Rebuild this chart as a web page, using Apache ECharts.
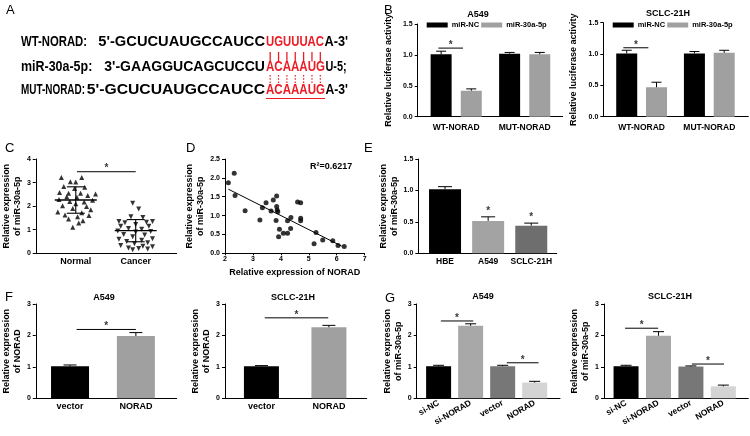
<!DOCTYPE html>
<html><head><meta charset="utf-8">
<script src="https://cdn.jsdelivr.net/npm/echarts@6/dist/echarts.min.js"></script>
<style>html,body{margin:0;padding:0;background:#fff}#main{width:750px;height:436px}</style>
</head><body><div id="main"></div>
<script>
// ================= DATA =================
// Panel A
const seqLabels = ['WT-NORAD:', 'miR-30a-5p:', 'MUT-NORAD:'];
const seqLeft = ["5'-GCUCUAUGCCAUCC", "3'-GAAGGUCAGCUCCU", "5'-GCUCUAUGCCAUCC"];
const seqSite = ['UGUUUAC', 'ACAAAUG', 'ACAAAUG'];
const seqRight = ["A-3'", 'U-5;', "A-3'"];

// Panel B
const bCategories = ['WT-NORAD', 'MUT-NORAD'];
const bSeriesNames = ['miR-NC', 'miR-30a-5p'];
const bTitles = ['A549', 'SCLC-21H'];
const bA549NC = [1.01, 1.02];
const bA549NCErr = [0.05, 0.02];
const bA549Mir = [0.42, 1.01];
const bA549MirErr = [0.03, 0.03];
const bSclcNC = [1.01, 1.01];
const bSclcNCErr = [0.05, 0.03];
const bSclcMir = [0.47, 1.02];
const bSclcMirErr = [0.08, 0.04];
const bA549Sig = [-0.26, 0.10, 1.11];
const bSclcSig = [-0.27, 0.10, 1.10];

// Panel C
const cCategories = ['Normal', 'Cancer'];
const cNormal = [3.22, 3.22, 3.04, 3.02, 2.83, 2.80, 2.75, 2.58, 2.55, 2.55, 2.52, 2.45, 2.40, 2.38, 2.28, 2.25, 2.20, 2.18, 2.10, 2.02, 1.98, 1.90, 1.85, 1.75, 1.72, 1.62, 1.60, 1.55, 1.45, 1.38, 1.28, 1.10];
const cNormalJitter = [-0.24, 0.10, -0.09, 0.0, -0.20, 0.15, -0.02, -0.27, -0.12, 0.08, 0.33, 0.20, -0.15, 0.02, -0.28, 0.28, -0.10, 0.14, 0.0, -0.22, 0.18, -0.05, 0.25, -0.30, 0.10, -0.18, 0.22, 0.03, -0.12, 0.12, 0.05, -0.05];
const cCancer = [2.12, 1.88, 1.55, 1.52, 1.35, 1.35, 1.30, 1.32, 1.22, 1.15, 1.15, 1.05, 1.02, 0.95, 0.92, 0.90, 0.80, 0.78, 0.70, 0.62, 0.60, 0.55, 0.50, 0.45, 0.40, 0.33, 0.30, 0.28, 0.22, 0.20, 0.18, 0.15];
const cCancerJitter = [-0.05, 0.05, -0.08, 0.12, -0.28, 0.28, -0.18, 0.18, 0.0, -0.25, 0.22, -0.12, 0.10, -0.30, 0.25, 0.0, -0.20, 0.15, -0.05, 0.28, -0.28, 0.10, -0.15, 0.20, -0.02, -0.25, 0.12, 0.28, -0.12, 0.05, 0.20, -0.05];
const cMean = [2.26, 0.96];
const cSD = [0.56, 0.47];
const cSig = [1.02, 2.0, 3.46];

// Panel D
const dNorad = [2.12, 2.33, 2.36, 2.72, 3.25, 3.34, 3.47, 3.65, 3.73, 3.85, 3.85, 3.87, 3.89, 3.83, 3.95, 3.92, 4.09, 4.24, 4.24, 4.36, 4.35, 4.60, 4.71, 4.71, 4.71, 5.26, 5.19, 5.50, 5.86, 6.05, 6.27];
const dMir = [1.87, 2.12, 1.53, 1.13, 0.88, 1.21, 1.34, 1.12, 1.41, 1.52, 1.24, 1.15, 1.10, 0.87, 0.64, 0.44, 0.53, 0.53, 0.86, 0.95, 0.66, 1.36, 1.34, 0.93, 0.86, 0.55, 0.25, 0.35, 0.33, 0.21, 0.18];
const dFit = [[2.12, 1.70], [6.18, 0.19]];
const dR2 = 'R\u00b2=0.6217';

// Panel E
const eCategories = ['HBE', 'A549', 'SCLC-21H'];
const eValues = [1.02, 0.515, 0.44];
const eErr = [0.04, 0.065, 0.04];
const eStarIdx = [1, 2];

// Panel F
const fCategories = ['vector', 'NORAD'];
const fTitles = ['A549', 'SCLC-21H'];
const fA549 = [1.02, 1.98];
const fA549Err = [0.04, 0.11];
const fSclc = [1.02, 2.26];
const fSclcErr = [0.02, 0.06];
const fA549Sig = [0.10, 1.0, 2.19];
const fSclcSig = [0.05, 0.99, 2.56];

// Panel G
const gCategories = ['si-NC', 'si-NORAD', 'vector', 'NORAD'];
const gTitles = ['A549', 'SCLC-21H'];
const gA549 = [1.02, 2.31, 1.02, 0.50];
const gA549Err = [0.03, 0.06, 0.03, 0.04];
const gSclc = [1.02, 1.99, 1.01, 0.38];
const gSclcErr = [0.03, 0.13, 0.02, 0.04];
const gA549Sig = [[0.07, 1.08, 2.46], [2.13, 3.12, 1.13]];
const gSclcSig = [[-0.03, 0.99, 2.23], [2.03, 3.02, 1.09]];

// ================= BUILD =================
const FONT = '"Liberation Sans", Arial, Helvetica, sans-serif';
const RED = '#ed1c24';
const TXT = {fontFamily: FONT, fontWeight: 'bold', color: '#000'};
const grids = [], xAxes = [], yAxes = [], series = [], legends = [], graphics = [];

function panel(rect, x, y) {
  const gi = grids.length;
  grids.push({left: rect[0], top: rect[1], width: rect[2], height: rect[3]});
  const line = {show: true, onZero: false, lineStyle: {color: '#000', width: 1}};
  xAxes.push(Object.assign({type: 'value', gridIndex: gi, splitLine: {show: false}, axisLine: line, axisTick: {show: false}}, x));
  yAxes.push(Object.assign({type: 'value', gridIndex: gi, splitLine: {show: false}, axisLine: line,
    axisTick: {show: true, length: 3, lineStyle: {color: '#000', width: 1}}}, y));
  return gi;
}
function yCfg(max, interval, dec, name, nameGap) {
  return {min: 0, max: max, interval: interval,
    axisLabel: Object.assign({fontSize: 7, margin: 5, formatter: v => v.toFixed(dec)}, TXT),
    name: name, nameLocation: 'middle', nameRotate: 90, nameGap: nameGap,
    nameTextStyle: Object.assign({fontSize: 9, lineHeight: 11}, TXT)};
}
function catX(min, max, cats, size, margin, rotate, base) {
  base = base || 0;
  return {min: min, max: max, axisLabel: Object.assign({
    customValues: cats.map((c, i) => i + base),
    formatter: v => cats[Math.round(v - base)] || '',
    fontSize: size, margin: margin, rotate: rotate || 0}, TXT)};
}
function errSeries(gi, pts, capW) {
  series.push({type: 'custom', xAxisIndex: gi, yAxisIndex: gi, data: pts, z: 5, silent: true,
    renderItem: (p, api) => {
      const x = api.value(0), v = api.value(1), e = api.value(2);
      const p0 = api.coord([x, v]), p1 = api.coord([x, v + e]);
      return {type: 'group', children: [
        {type: 'line', shape: {x1: p0[0], y1: p0[1], x2: p1[0], y2: p1[1]}, style: {stroke: '#000', lineWidth: 1}},
        {type: 'line', shape: {x1: p1[0] - capW / 2, y1: p1[1], x2: p1[0] + capW / 2, y2: p1[1]}, style: {stroke: '#000', lineWidth: 1}}
      ]};
    }});
}
function star(gi, x, y) {
  series.push({type: 'scatter', xAxisIndex: gi, yAxisIndex: gi, data: [[x, y]], symbolSize: 0.1, silent: true,
    itemStyle: {color: 'rgba(0,0,0,0)'},
    label: Object.assign({show: true, formatter: '*', position: 'inside', offset: [0, -3], fontSize: 10}, TXT)});
}
function sig(gi, s) {
  series.push({type: 'line', xAxisIndex: gi, yAxisIndex: gi, data: [[s[0], s[2]], [s[1], s[2]]], symbol: 'none', silent: true,
    lineStyle: {color: '#000', width: 1}});
  star(gi, (s[0] + s[1]) / 2, s[2]);
}
function bars(gi, name, data, width, color) {
  series.push({type: 'bar', name: name, xAxisIndex: gi, yAxisIndex: gi, data: data, barWidth: width, barGap: '-100%',
    silent: true, itemStyle: {color: color}});
}
function gtext(text, x, y, font, extra) {
  const style = Object.assign({text: text, font: font, fill: '#000', align: 'left', verticalAlign: 'middle'}, (extra && extra.style) || {});
  const el = Object.assign({type: 'text', x: x, y: y, silent: true}, extra || {});
  el.style = style;
  graphics.push(el);
}
function gline(x1, y1, x2, y2, color, w, dash) {
  graphics.push({type: 'line', silent: true, shape: {x1, y1, x2, y2}, style: {stroke: color, lineWidth: w, lineDash: dash || null}});
}
const LETTER = '13px ' + FONT;
const TITLE = 'bold 9px ' + FONT;

// ---------- Panel A ----------
const ctx = document.createElement('canvas').getContext('2d');
function measure(t, f) { ctx.font = f; return ctx.measureText(t).width; }
const AFONT = 'bold 14px ' + FONT;
const aRows = [
  {y: 42.5, spans: [[21, 87], [98.3, 265], [266, 324], [324.5, 348]]},
  {y: 67.5, spans: [[21, 92.3], [104.3, 265], [266, 325], [325.5, 346.7]]},
  {y: 90.5, spans: [[21, 85], [86.7, 265], [266, 325], [325.5, 348]]}
];
aRows.forEach((r, k) => {
  const texts = [seqLabels[k], seqLeft[k], seqSite[k], seqRight[k]];
  const cols = ['#000', '#000', RED, '#000'];
  texts.forEach((t, j) => {
    const sp = r.spans[j];
    const w = measure(t, AFONT);
    gtext(t, sp[0], r.y, AFONT, {scaleX: (sp[1] - sp[0]) / w, style: {fill: cols[j]}});
  });
});
for (let i = 0; i < 7; i++) {
  const x = 266 + (i + 0.5) * 58.5 / 7;
  gline(x, 52, x, 61.5, RED, 1.3);
  gline(x, 75, x, 84, RED, 1.2, [1.5, 1.8]);
}
gline(266, 98.5, 325, 98.5, RED, 1.2);
gtext('A', 6, 10, LETTER);

// ---------- Panel B ----------
const bSets = [
  {nc: bA549NC, ncE: bA549NCErr, mir: bA549Mir, mirE: bA549MirErr, sg: bA549Sig, rect: [417.7, 24, 145, 92.7], min: -0.562, max: 1.555, gap: 23.5, tx: 478, ty: 15, leg: 426.7},
  {nc: bSclcNC, ncE: bSclcNCErr, mir: bSclcMir, mirE: bSclcMirErr, sg: bSclcSig, rect: [603.3, 22.7, 145, 94], min: -0.566, max: 1.576, gap: 24, tx: 668, ty: 14, leg: 612.7}
];
bSets.forEach((b, k) => {
  const gi = panel(b.rect, catX(b.min, b.max, bCategories, 8.5, 6), yCfg(1.5, 0.5, 1, 'Relative luciferase activity', b.gap));
  const offs = [-0.22, 0.22], cols = ['#000', '#a0a0a0'];
  [[b.nc, b.ncE], [b.mir, b.mirE]].forEach((s, j) => {
    bars(gi, bSeriesNames[j], bCategories.map((c, i) => [i + offs[j], s[0][i]]), 21, cols[j]);
    errSeries(gi, bCategories.map((c, i) => [i + offs[j], s[0][i], s[1][i]]), 10);
  });
  sig(gi, b.sg);
  legends.push({left: b.leg, top: 21, padding: 0, itemWidth: 21, itemHeight: 5, itemGap: 2, icon: 'rect',
    selectedMode: false, data: bSeriesNames, textStyle: Object.assign({fontSize: 7.5, padding: [0, 0, 0, -1]}, TXT)});
  gtext(bTitles[k], b.tx, b.ty, TITLE, {style: {align: 'center'}});
});
gtext('B', 384, 10, LETTER);

// ---------- Panel C ----------
(function () {
  const gi = panel([33.3, 159, 143.4, 94.3], catX(0.333, 2.684, cCategories, 9, 4, 0, 1),
    yCfg(4, 1, 0, 'Relative expression\nof miR-30a-5p', 9.5));
  series.push({type: 'scatter', xAxisIndex: gi, yAxisIndex: gi, symbol: 'triangle', symbolSize: 5, silent: true,
    itemStyle: {color: '#000'}, data: cNormal.map((v, i) => [1 + cNormalJitter[i], v])});
  series.push({type: 'scatter', xAxisIndex: gi, yAxisIndex: gi, symbol: 'triangle', symbolRotate: 180, symbolSize: 5, silent: true,
    itemStyle: {color: '#000'}, data: cCancer.map((v, i) => [2 + cCancerJitter[i], v])});
  series.push({type: 'custom', xAxisIndex: gi, yAxisIndex: gi, z: 6, silent: true,
    data: cCategories.map((c, i) => [i + 1, cMean[i], cSD[i]]),
    renderItem: (p, api) => {
      const x = api.value(0), m = api.value(1), s = api.value(2);
      const pm = api.coord([x, m]), pu = api.coord([x, m + s]), pl = api.coord([x, m - s]);
      const L = (a, b, c, d, w) => ({type: 'line', shape: {x1: a, y1: b, x2: c, y2: d}, style: {stroke: '#000', lineWidth: w}});
      return {type: 'group', children: [
        L(pm[0] - 21, pm[1], pm[0] + 21, pm[1], 1.3),
        L(pu[0] - 9, pu[1], pu[0] + 9, pu[1], 1.1),
        L(pl[0] - 9, pl[1], pl[0] + 9, pl[1], 1.1),
        L(pu[0], pu[1], pl[0], pl[1], 1.1)
      ]};
    }});
  sig(gi, cSig);
  gtext('C', 5, 148, LETTER);
})();

// ---------- Panel D ----------
(function () {
  const gi = panel([225, 159, 139.6, 94.3],
    {min: 2, max: 7, interval: 1,
     axisTick: {show: true, length: 2, lineStyle: {color: '#000'}},
     axisLabel: Object.assign({fontSize: 7, margin: 2}, TXT),
     name: 'Relative expression of NORAD', nameLocation: 'middle', nameGap: 15,
     nameTextStyle: Object.assign({fontSize: 9}, TXT)},
    yCfg(2.5, 0.5, 1, 'Relative expression\nof miR-30a-5p', 11));
  series.push({type: 'scatter', xAxisIndex: gi, yAxisIndex: gi, symbol: 'circle', symbolSize: 5, silent: true,
    itemStyle: {color: '#000'}, data: dNorad.map((x, i) => [x, dMir[i]])});
  series.push({type: 'line', xAxisIndex: gi, yAxisIndex: gi, data: dFit, symbol: 'none', silent: true,
    lineStyle: {color: '#000', width: 1}});
  gtext(dR2, 310, 167, TITLE);
  gtext('D', 186, 148, LETTER);
})();

// ---------- Panel E ----------
(function () {
  const gi = panel([418.3, 159, 138.4, 94.3], catX(-0.62, 2.59, eCategories, 8.5, 4),
    yCfg(1.5, 0.5, 1, 'Relative expression\nof miR-30a-5p', 13.5));
  const cols = ['#000', '#a3a3a3', '#6e6e6e'];
  bars(gi, 'E', eCategories.map((c, i) => ({value: [i, eValues[i]], itemStyle: {color: cols[i]}})), 32, '#000');
  errSeries(gi, eCategories.map((c, i) => [i, eValues[i], eErr[i]]), 14);
  eStarIdx.forEach(i => star(gi, i, eValues[i] + eErr[i] + 0.04));
  gtext('E', 364, 148, LETTER);
})();

// ---------- Panel F ----------
[
  {v: fA549, e: fA549Err, sg: fA549Sig, rect: [33.3, 304, 143.4, 94.3], min: -0.52, max: 1.62, gap: 8.5, bw: 38, tx: 104},
  {v: fSclc, e: fSclcErr, sg: fSclcSig, rect: [225, 304, 141.7, 94.3], min: -0.54, max: 1.56, gap: 12, bw: 35, tx: 293}
].forEach((f, k) => {
  const gi = panel(f.rect, catX(f.min, f.max, fCategories, 9, 4), yCfg(3, 1, 0, 'Relative expression\nof NORAD', f.gap));
  const cols = ['#000', '#a0a0a0'];
  bars(gi, 'F' + k, fCategories.map((c, i) => ({value: [i, f.v[i]], itemStyle: {color: cols[i]}})), f.bw, '#000');
  errSeries(gi, fCategories.map((c, i) => [i, f.v[i], f.e[i]]), 13);
  sig(gi, f.sg);
  gtext(fTitles[k], f.tx, 298, TITLE, {style: {align: 'center'}});
});
gtext('F', 5, 297, LETTER);

// ---------- Panel G ----------
[
  {v: gA549, e: gA549Err, sg: gA549Sig, rect: [416.7, 304, 143.3, 94.3], min: -0.684, max: 3.79, gap: 7, tx: 483},
  {v: gSclc, e: gSclcErr, sg: gSclcSig, rect: [604, 304, 144.3, 94.3], min: -0.68, max: 3.77, gap: 9.5, tx: 670}
].forEach((g, k) => {
  const gi = panel(g.rect, catX(g.min, g.max, gCategories, 8.5, 4, 30), yCfg(3, 1, 0, 'Relative expression\nof miR-30a-5p', g.gap));
  const cols = ['#000', '#a8a8a8', '#777777', '#d4d4d4'];
  bars(gi, 'G' + k, gCategories.map((c, i) => ({value: [i, g.v[i]], itemStyle: {color: cols[i]}})), 25, '#000');
  errSeries(gi, gCategories.map((c, i) => [i, g.v[i], g.e[i]]), 11);
  g.sg.forEach(s => sig(gi, s));
  gtext(gTitles[k], g.tx, 297, TITLE, {style: {align: 'center'}});
});
gtext('G', 385, 298, LETTER);

const chart = echarts.init(document.getElementById('main'));
chart.setOption({
  animation: false,
  backgroundColor: '#fff',
  grid: grids, xAxis: xAxes, yAxis: yAxes, series: series, legend: legends, graphic: graphics
});
</script></body></html>
